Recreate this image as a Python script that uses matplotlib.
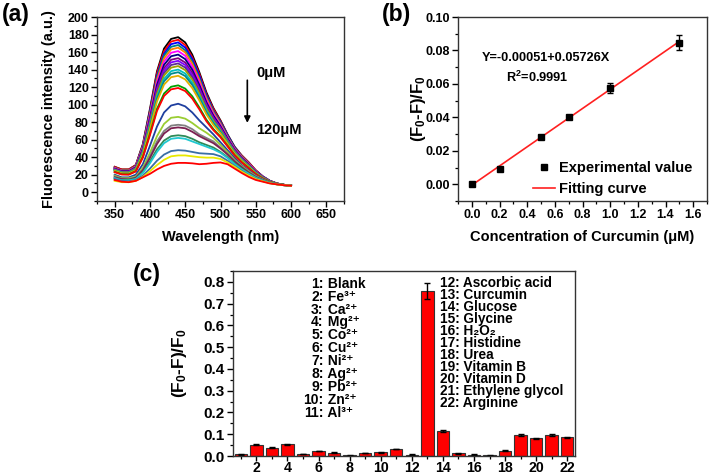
import matplotlib
matplotlib.use('Agg')
import matplotlib.pyplot as plt
from matplotlib.ticker import MultipleLocator, FormatStrFormatter, FixedLocator
from matplotlib.lines import Line2D

plt.rcParams['font.family'] = ['Liberation Sans', 'DejaVu Sans']
plt.rcParams['font.weight'] = 'bold'
plt.rcParams['axes.labelweight'] = 'bold'
plt.rcParams['mathtext.fontset'] = 'custom'
plt.rcParams['mathtext.rm'] = 'Liberation Sans:bold'
plt.rcParams['mathtext.it'] = 'Liberation Sans:bold'
plt.rcParams['mathtext.bf'] = 'Liberation Sans:bold'
plt.rcParams['mathtext.sf'] = 'Liberation Sans:bold'
plt.rcParams['mathtext.default'] = 'rm'

# ---------------- Panel (a): fluorescence spectra ----------------
wavelength = [350, 360, 370, 380, 390, 400, 410, 420, 430, 440, 450, 460, 470,
              480, 490, 500, 510, 520, 530, 540, 550, 560, 570, 580, 590, 600]
spec_177 = [29, 26, 26, 31, 55, 95, 138, 164, 175, 177, 171, 157, 137, 114, 96, 82, 66, 52, 42, 34, 25, 18, 13, 10, 8.5, 7.5]
spec_174 = [29, 26, 26, 31, 54, 93, 136, 161, 172, 174, 168, 154, 135, 112, 95, 81, 65, 51, 42, 34, 25, 18, 13, 10, 8.5, 7.5]
spec_171 = [28, 25, 25, 30, 53, 92, 133, 158, 169, 171, 165, 152, 133, 111, 93, 80, 65, 51, 41, 33, 24.5, 18, 13, 10, 8.5, 7.5]
spec_168 = [28, 25, 25, 30, 53, 90, 131, 156, 166, 168, 162, 149, 130, 109, 92, 79, 64, 50, 41, 33, 24, 17.6, 12.8, 9.9, 8.5, 7.5]
spec_165 = [27.7, 24.8, 24.8, 29.5, 51.8, 88.8, 128.6, 152.7, 163, 165, 159.5, 146.6, 128.2, 107.2, 90.8, 78, 63.1, 49.9, 40.3, 32.6, 24.1, 17.5, 12.7, 9.9, 8.5, 7.5]
spec_161 = [27.3, 24.4, 24.4, 29, 50.8, 86.8, 125.6, 149.1, 159.2, 161.1, 155.7, 143.2, 125.3, 105, 89.1, 76.7, 62.2, 49.2, 39.8, 32.2, 23.8, 17.3, 12.7, 9.9, 8.4, 7.5]
spec_157 = [26.9, 24.1, 24, 28.5, 49.7, 84.7, 122.4, 145.4, 155.2, 157.1, 151.9, 139.8, 122.4, 102.7, 87.3, 75.3, 61.3, 48.5, 39.2, 31.7, 23.5, 17.2, 12.6, 9.9, 8.4, 7.5]
spec_153 = [26.5, 23.7, 23.6, 28, 48.7, 82.6, 119.3, 141.6, 151.2, 153, 148, 136.3, 119.5, 100.4, 85.6, 74, 60.3, 47.8, 38.7, 31.2, 23.2, 17, 12.5, 9.8, 8.4, 7.5]
spec_150 = [26.2, 23.4, 23.3, 27.6, 47.9, 81.1, 116.9, 138.8, 148.2, 150, 145.2, 133.7, 117.3, 98.7, 84.3, 73, 59.6, 47.3, 38.2, 30.9, 22.9, 16.9, 12.4, 9.8, 8.4, 7.5]
spec_147 = [25.9, 23.1, 23, 27.2, 47.1, 79.5, 114.6, 136, 145.2, 147, 142.3, 131.1, 115.1, 97, 82.9, 72, 58.9, 46.8, 37.8, 30.6, 22.7, 16.7, 12.4, 9.8, 8.4, 7.5]
spec_144 = [25.6, 22.8, 22.7, 26.9, 46.3, 78, 112.2, 133.2, 142.2, 144, 139.4, 128.5, 112.9, 95.3, 81.6, 71, 58.2, 46.3, 37.4, 30.2, 22.5, 16.6, 12.3, 9.8, 8.4, 7.5]
spec_140 = [25.1, 22.4, 22.3, 26.4, 45.2, 75.9, 109.1, 129.4, 138.2, 140, 135.5, 125, 109.9, 93, 79.9, 69.6, 57.2, 45.6, 36.8, 29.7, 22.2, 16.5, 12.2, 9.7, 8.4, 7.5]
spec_137 = [24.8, 22.1, 22, 26, 44.4, 74.4, 106.8, 126.6, 135.2, 137, 132.6, 122.4, 107.7, 91.3, 78.6, 68.6, 56.5, 45, 36.4, 29.4, 21.9, 16.3, 12.2, 9.7, 8.4, 7.5]
spec_133 = [24.4, 21.7, 21.5, 25.5, 43.3, 72.3, 103.6, 122.9, 131.3, 132.9, 128.8, 118.9, 104.8, 89, 76.8, 67.3, 55.6, 44.3, 35.9, 28.9, 21.6, 16.2, 12.1, 9.7, 8.3, 7.5]
spec_122 = [23.3, 20.6, 20.4, 24.1, 40.4, 66.7, 95.1, 112.7, 120.4, 122, 118.3, 109.5, 96.8, 82.8, 72.1, 63.6, 53, 42.4, 34.3, 27.7, 20.8, 15.7, 11.9, 9.6, 8.3, 7.5]
spec_119 = [22.9, 20.3, 20.1, 23.7, 39.6, 65.1, 92.8, 109.9, 117.4, 119, 115.5, 106.9, 94.6, 81.1, 70.8, 62.6, 52.3, 41.9, 33.9, 27.3, 20.6, 15.6, 11.8, 9.6, 8.3, 7.5]
spec_101 = [20, 17, 17, 20, 32, 53, 75, 91, 99, 101, 98, 91, 82, 74, 66, 57, 48, 39, 31, 25, 19, 15, 11.5, 9.5, 8.2, 7.5]
spec_86 = [19, 16, 16, 18, 28, 45, 64, 78, 85, 86, 84, 79, 73, 68, 62, 54, 46, 37, 30, 24, 18.5, 14.5, 11.3, 9.4, 8.2, 7.5]
spec_77 = [18, 15.5, 15, 17, 26, 41, 58, 70, 76, 77, 76, 72, 66, 62, 58, 51, 44, 36, 29, 23, 18, 14, 11, 9.3, 8.1, 7.5]
spec_74 = [17, 15, 14.5, 16.5, 25, 39, 55, 67, 73, 74, 73, 69, 64, 60, 56, 50, 43, 35, 28.5, 22.5, 17.5, 14, 11, 9.2, 8, 7.5]
spec_65 = [16, 14, 14, 15.5, 23, 35, 49, 59, 64, 65, 64, 61, 57, 54, 51, 46, 40, 33, 27, 21.5, 17, 13.5, 10.8, 9.1, 8, 7.5]
spec_62 = [16, 13.5, 13.5, 15, 22, 33, 46, 56, 61, 62, 61, 58, 55, 52, 49, 45, 39, 32, 26, 21, 16.5, 13.3, 10.7, 9, 8, 7.5]
spec_48 = [15, 13, 12.5, 14, 19, 27, 36, 43, 47, 48, 47.5, 46, 44.5, 44, 43.5, 41, 36, 30, 24.5, 19.5, 15.5, 12.8, 10.5, 9, 8, 7.5]
spec_42 = [13, 11.5, 11.5, 13, 17.5, 24, 31, 37, 41, 42, 42, 41, 40, 39.5, 39.5, 38, 34, 29, 23.5, 19, 15, 12.5, 10.3, 8.9, 8, 7.5]
spec_34 = [14, 12, 11.5, 13, 17, 21, 26, 30, 32.5, 33.5, 33.5, 33, 32, 32.5, 33.5, 34, 32, 27, 22, 17.5, 14, 12, 10, 9, 8, 7.5]

spectra = [spec_177, spec_174, spec_171, spec_168, spec_165, spec_161, spec_157,
           spec_153, spec_150, spec_147, spec_144, spec_140, spec_137, spec_133,
           spec_122, spec_119, spec_101, spec_86, spec_77, spec_74, spec_65,
           spec_62, spec_48, spec_42, spec_34]
spec_colors = ['#000000', '#FF0000', '#0000FF', '#008080', '#FF8000', '#FF00FF',
               '#000080', '#800080', '#8000FF', '#5A2D91', '#A0A000', '#00C0C0',
               '#008B8B', '#E0B000', '#00A000', '#FF0000', '#1F3F9F', '#9ACD32',
               '#808080', '#7B2050', '#2E8B57', '#20C8D0', '#3A6EA5', '#E8E800',
               '#FF0000']

# ---------------- Panel (b): calibration ----------------
conc = [0.0, 0.2, 0.5, 0.7, 1.0, 1.5]
quench = [0.0, 0.0093, 0.0281, 0.0401, 0.0575, 0.0845]
quench_err = [0.0004, 0.0006, 0.0008, 0.0012, 0.0032, 0.0045]
fit_intercept = -0.00051
fit_slope = 0.05726
fit_x = [0.0, 1.5]

# ---------------- Panel (c): selectivity ----------------
sample_id = list(range(1, 23))
response = [0.008, 0.052, 0.038, 0.054, 0.009, 0.023, 0.015, 0.003, 0.014, 0.018,
            0.032, 0.006, 0.760, 0.115, 0.012, 0.006, 0.004, 0.024, 0.098, 0.081,
            0.095, 0.086]
response_err = [0.002, 0.003, 0.003, 0.003, 0.002, 0.002, 0.002, 0.002, 0.002, 0.002,
                0.002, 0.002, 0.037, 0.006, 0.002, 0.002, 0.002, 0.002, 0.004, 0.003,
                0.004, 0.003]
sample_names = ["Blank", "Fe³⁺", "Ca²⁺", "Mg²⁺", "Co²⁺", "Cu²⁺", "Ni²⁺", "Ag²⁺",
                "Pb²⁺", "Zn²⁺", "Al³⁺", "Ascorbic acid", "Curcumin", "Glucose",
                "Glycine", "H₂O₂", "Histidine", "Urea", "Vitamin B", "Vitamin D",
                "Ethylene glycol", "Arginine"]

W, H = 709, 475
fig = plt.figure(figsize=(W / 100, H / 100), dpi=100)

def frac(l, t, r, b):
    return [l / W, 1 - b / H, (r - l) / W, (b - t) / H]

ax_a = fig.add_axes(frac(97, 17, 344, 201))
ax_b = fig.add_axes(frac(458, 17, 707, 201))
ax_c = fig.add_axes(frac(233, 271, 575, 456))

def style(ax, lsize, pad=2):
    for s in ax.spines.values():
        s.set_linewidth(1.0)
        s.set_color('#333333')
    ax.tick_params(which='major', direction='out', length=4, width=1,
                   labelsize=lsize, pad=pad, top=False, right=False)
    ax.tick_params(which='minor', direction='out', length=2.2, width=0.9,
                   top=False, right=False)

# Panel (a)
for vals, col in zip(spectra, spec_colors):
    ax_a.plot(wavelength, vals, color=col, lw=1.3, solid_joinstyle='round')
ax_a.set_xlim(325, 675)
ax_a.set_ylim(-10, 200)
ax_a.xaxis.set_major_locator(MultipleLocator(50))
ax_a.xaxis.set_minor_locator(MultipleLocator(25))
ax_a.yaxis.set_major_locator(MultipleLocator(20))
ax_a.yaxis.set_minor_locator(MultipleLocator(10))
style(ax_a, 9)
ax_a.set_xlabel('Wavelength (nm)', fontsize=10.5)
ax_a.set_ylabel('Fluorescence intensity (a.u.)', fontsize=10.5)
ax_a.xaxis.set_label_coords(0.5, -0.16)
ax_a.yaxis.set_label_coords(-0.165, 0.5)
ax_a.annotate('', xy=(538, 76), xytext=(538, 131),
              arrowprops=dict(arrowstyle='-|>', color='k', lw=1.2, mutation_scale=9))
ax_a.text(551, 136, '0μM', ha='left', va='center', fontsize=10.5)
ax_a.text(551, 71, '120μM', ha='left', va='center', fontsize=10.5)

# Panel (b)
fy = [fit_intercept + fit_slope * x for x in fit_x]
ax_b.errorbar(conc, quench, yerr=quench_err, fmt='s', color='k', ms=4.5,
              capsize=2, elinewidth=1, capthick=1, zorder=3)
ax_b.plot(fit_x, fy, color='#FF2020', lw=1.2, zorder=2)
ax_b.set_xlim(-0.1, 1.7)
ax_b.set_ylim(-0.01, 0.10)
ax_b.xaxis.set_major_locator(MultipleLocator(0.2))
ax_b.xaxis.set_minor_locator(MultipleLocator(0.1))
ax_b.yaxis.set_major_locator(MultipleLocator(0.02))
ax_b.yaxis.set_minor_locator(MultipleLocator(0.01))
ax_b.xaxis.set_major_formatter(FormatStrFormatter('%.1f'))
ax_b.yaxis.set_major_formatter(FormatStrFormatter('%.2f'))
style(ax_b, 9)
ax_b.set_xlabel('Concentration of Curcumin (μM)', fontsize=10.5)
ax_b.set_ylabel('(F$_0$-F)/F$_0$', fontsize=12)
ax_b.xaxis.set_label_coords(0.5, -0.16)
ax_b.yaxis.set_label_coords(-0.12, 0.5)
ax_b.text(0.073, 0.0756, 'Y=-0.00051+0.05726X', ha='left', va='center', fontsize=9.2)
ax_b.text(0.247, 0.0637, 'R$^2$=0.9991', ha='left', va='center', fontsize=9.2)
handles = [Line2D([], [], marker='s', ls='none', color='k', ms=4.5),
           Line2D([], [], color='#FF2020', lw=1.2)]
ax_b.legend(handles, ['Experimental value', 'Fitting curve'], loc='upper left',
            bbox_to_anchor=(0.3, 0.215), frameon=False, fontsize=10.5,
            handlelength=1.5, handletextpad=0.3, labelspacing=0.45,
            borderaxespad=0, borderpad=0)

# Panel (c)
ax_c.bar(sample_id, response, width=0.8, color='#FF0000', edgecolor='#333333',
         linewidth=0.8, yerr=response_err, capsize=2.5,
         error_kw=dict(elinewidth=1, capthick=1, ecolor='k'))
ax_c.set_xlim(0.5, 22.5)
ax_c.set_ylim(0, 0.85)
ax_c.xaxis.set_major_locator(FixedLocator(list(range(2, 23, 2))))
ax_c.xaxis.set_minor_locator(FixedLocator(list(range(1, 23, 2))))
ax_c.yaxis.set_major_locator(MultipleLocator(0.1))
ax_c.yaxis.set_minor_locator(MultipleLocator(0.05))
ax_c.yaxis.set_major_formatter(FormatStrFormatter('%.1f'))
style(ax_c, 11)
ax_c.tick_params(axis='x', which='major', length=3.5, pad=0, labelsize=10.2)
ax_c.set_ylabel('(F$_0$-F)/F$_0$', fontsize=12.5)
ax_c.yaxis.set_label_coords(-0.13, 0.5)
for i in range(11):
    y = 0.791 - i * 0.0592
    ax_c.text(6.33, y, f'{sample_id[i]}:', ha='right', va='center', fontsize=10)
    ax_c.text(6.33, y, ' ' + sample_names[i], ha='left', va='center', fontsize=10)
for j, i in enumerate(range(11, 22)):
    y = 0.795 - j * 0.055
    ax_c.text(13.81, y, f'{sample_id[i]}: ' + sample_names[i], ha='left',
              va='center', fontsize=9.8)

# Panel labels
fig.text(2 / W, 1 - 14 / H, '(a)', fontsize=16.5, fontweight='bold', va='center', ha='left')
fig.text(382 / W, 1 - 14 / H, '(b)', fontsize=16.5, fontweight='bold', va='center', ha='left')
fig.text(133 / W, 1 - 275 / H, '(c)', fontsize=16.5, fontweight='bold', va='center', ha='left')

fig.savefig('out.png', dpi=100)
